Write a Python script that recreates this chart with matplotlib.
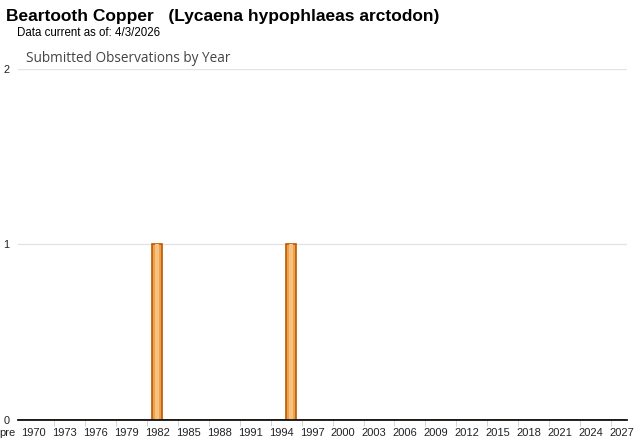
import matplotlib
matplotlib.use("Agg")
import matplotlib.pyplot as plt
from matplotlib.transforms import ScaledTranslation

# ── data ─────────────────────────────────────────────
categories = ["pre"] + [str(y) for y in range(1970, 2028)]
obs_years = ["1982", "1995"]
obs_counts = [1, 1]
y_ticks = [0, 1, 2]

counts = [obs_counts[obs_years.index(c)] if c in obs_years else 0 for c in categories]

plt.rcParams["font.family"] = ["Liberation Sans", "DejaVu Sans"]

fig = plt.figure(figsize=(6.4, 4.42), dpi=100)
ax = fig.add_axes([0.028, 0.050, 0.951, 0.794])

x = list(range(len(categories)))
ax.bar(x, counts, width=0.95, color="#eea24c", edgecolor="#b85a00", linewidth=1.2, zorder=3)
# lighter highlight strip inside the bars
ax.bar(x, counts, width=0.35, color="#f6c283", linewidth=0, zorder=4, align="center")

ax.set_xlim(-0.5, len(categories) - 0.5)
ax.set_ylim(0, 2)
ax.set_yticks(y_ticks)
ax.set_yticklabels([str(v) for v in y_ticks], fontsize=7.8, color="#222222")
ax.yaxis.grid(True, color="#e2e2e2", linewidth=0.9, zorder=0)
ax.tick_params(axis="y", length=0, pad=6)

label_idx = [0] + list(range(1, len(categories), 3))
ax.set_xticks(label_idx)
ax.set_xticklabels([categories[i] for i in label_idx], fontsize=8, color="#222222")
ax.tick_params(axis="x", which="major", length=0, pad=6)
# small tick marks sit one category left of each label, like the original
ax.set_xticks([i - 1 for i in label_idx[1:]], minor=True)
ax.tick_params(axis="x", which="minor", length=4, color="#cccccc")

pre_lbl = ax.get_xticklabels()[0]
pre_lbl.set_transform(pre_lbl.get_transform() + ScaledTranslation(-0.16, 0, fig.dpi_scale_trans))

for s in ["top", "right", "left"]:
    ax.spines[s].set_visible(False)
ax.spines["bottom"].set_color("#111111")
ax.spines["bottom"].set_linewidth(1.3)
ax.spines["bottom"].set_zorder(5)

fig.text(0.009, 0.962, "Beartooth Copper   (Lycaena hypophlaeas arctodon)",
         fontsize=12.5, fontweight="bold", va="center", ha="left")
fig.text(0.027, 0.925, "Data current as of: 4/3/2026", fontsize=8.3, va="center", ha="left")
fig.text(0.040, 0.867, "Submitted Observations by Year", fontsize=9.8, color="#444444",
         va="center", ha="left", family=["Open Sans", "DejaVu Sans"])

fig.savefig("out.png", dpi=100)
